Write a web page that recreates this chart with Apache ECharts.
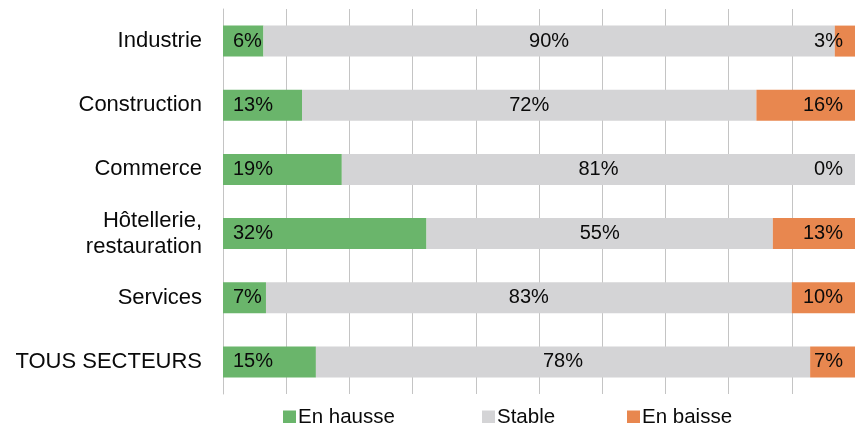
<!DOCTYPE html>
<html>
<head>
<meta charset="utf-8">
<script src="https://cdn.jsdelivr.net/npm/echarts@6/dist/echarts.min.js"></script>
<style>
  html, body { margin: 0; padding: 0; background: #fff; }
  #chart { width: 855px; height: 423px; }
</style>
</head>
<body>
<div id="chart"></div>
<script>
const categories = ['Industrie', 'Construction', 'Commerce', 'Hôtellerie,\nrestauration', 'Services', 'TOUS SECTEURS'];
const seriesNames = ['En hausse', 'Stable', 'En baisse'];
const enHausse = [6.4, 12.5, 18.8, 32.2, 6.8, 14.7];
const stable = [90.4, 71.9, 81.2, 54.8, 83.2, 78.2];
const enBaisse = [3.2, 15.6, 0, 13.0, 10.0, 7.1];

const colors = ['#6ab56b', '#d4d4d6', '#e8874f'];
const font = '"Liberation Sans", Arial, Helvetica, sans-serif';

const chart = echarts.init(document.getElementById('chart'), null, { renderer: 'canvas' });

function pct(p) { return Math.round(p.value) + '%'; }

const labelBase = { show: true, color: '#0a0a0a', fontSize: 20, fontFamily: font, formatter: pct };

const option = {
  animation: false,
  backgroundColor: '#ffffff',
  grid: { left: 223, top: 9, width: 637, height: 385, containLabel: false },
  xAxis: {
    type: 'value', min: 0, max: 100, interval: 10,
    axisLabel: { show: false }, axisTick: { show: false }, axisLine: { show: false },
    splitLine: { show: true, lineStyle: { color: '#c4c4c4', width: 1 } }
  },
  yAxis: {
    type: 'category', data: categories, inverse: true,
    axisTick: { show: false },
    axisLine: { show: true, lineStyle: { color: '#c4c4c4', width: 1 } },
    axisLabel: { color: '#0a0a0a', fontSize: 22, fontFamily: font, margin: 21, lineHeight: 26, align: 'right' }
  },
  legend: [
    { data: [seriesNames[0]], left: 278, top: 402 },
    { data: [seriesNames[1]], left: 477, top: 402 },
    { data: [seriesNames[2]], left: 622, top: 402 }
  ].map(l => Object.assign(l, {
    itemWidth: 13, itemHeight: 14, itemGap: 3, icon: 'rect',
    textStyle: { color: '#0a0a0a', fontSize: 20.5, fontFamily: font, padding: [0, 0, 0, -3] }
  })),
  series: [
    { name: seriesNames[0], type: 'bar', stack: 'all', data: enHausse, barWidth: 31,
      itemStyle: { color: colors[0] },
      label: Object.assign({}, labelBase, { position: 'insideLeft', distance: 10 }) },
    { name: seriesNames[1], type: 'bar', stack: 'all', data: stable, barWidth: 31,
      itemStyle: { color: colors[1] },
      label: Object.assign({}, labelBase, { position: 'inside' }) },
    { name: seriesNames[2], type: 'bar', stack: 'all', data: enBaisse, barWidth: 31,
      itemStyle: { color: colors[2] },
      label: Object.assign({}, labelBase, { position: 'insideRight', distance: 12 }) }
  ]
};
chart.setOption(option);
</script>
</body>
</html>
